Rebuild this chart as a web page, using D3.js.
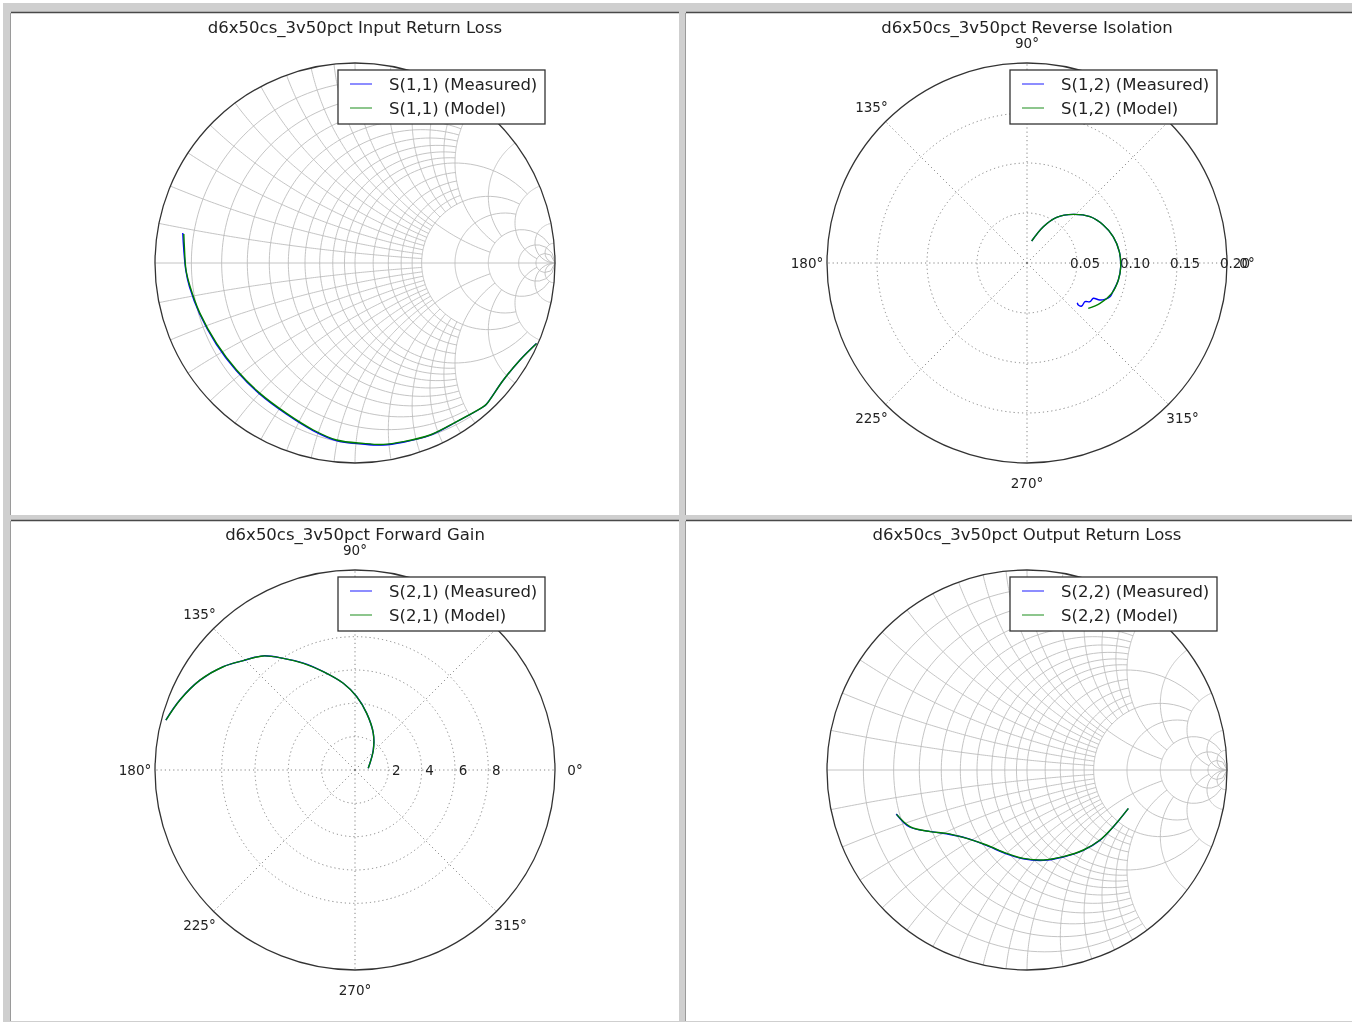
<!DOCTYPE html>
<html>
<head>
<meta charset="utf-8">
<script src="https://cdn.jsdelivr.net/npm/d3@7/dist/d3.min.js"></script>
<style>
    body { margin: 0; background: #fff; }
    svg text { font-family: "DejaVu Sans", sans-serif; fill: #222; }
</style>
</head>
<body>
<div class="chart-main"></div>
<script>

//////////
// DATA //
//////////

var titles = [
    'd6x50cs_3v50pct Input Return Loss',
    'd6x50cs_3v50pct Reverse Isolation',
    'd6x50cs_3v50pct Forward Gain',
    'd6x50cs_3v50pct Output Return Loss'
];
var paramNames = ['S(1,1)', 'S(1,2)', 'S(2,1)', 'S(2,2)'];
var legendKinds = ['(Measured)', '(Model)'];

// S(1,1) reflection coefficient (real, imag)
var s11MeasRe = [-0.861, -0.857, -0.846, -0.828, -0.777, -0.694, -0.594, -0.477, -0.344, -0.210, -0.094, 0.040, 0.141, 0.240, 0.373, 0.506, 0.640, 0.656, 0.741, 0.824, 0.907];
var s11MeasIm = [0.150, 0.080, -0.036, -0.118, -0.254, -0.405, -0.538, -0.655, -0.755, -0.838, -0.888, -0.905, -0.910, -0.896, -0.862, -0.795, -0.720, -0.707, -0.586, -0.486, -0.403];
var s11ModelRe = [-0.856, -0.853, -0.845, -0.825, -0.775, -0.692, -0.592, -0.475, -0.342, -0.208, -0.092, 0.042, 0.142, 0.242, 0.375, 0.508, 0.642, 0.658, 0.742, 0.825, 0.908];
var s11ModelIm = [0.145, 0.078, -0.035, -0.116, -0.252, -0.402, -0.535, -0.652, -0.752, -0.835, -0.885, -0.902, -0.907, -0.893, -0.860, -0.793, -0.718, -0.705, -0.585, -0.485, -0.402];

// S(1,2) magnitude / angle (deg)
var s12MeasMag = [0.0225, 0.0398, 0.0545, 0.0672, 0.0782, 0.0852, 0.0902, 0.0930, 0.0938, 0.0929, 0.0905, 0.0896, 0.0818, 0.0751, 0.0739, 0.0697, 0.0696, 0.0663, 0.0641];
var s12MeasAng = [78, 65.8, 57, 46.4, 36.3, 26.5, 16.9, 7, -2.3, -10.5, -18.5, -22.1, -26.9, -28, -31.6, -33.7, -38.2, -39.3, -38.3];
var s12ModelMag = [0.0225, 0.0398, 0.0545, 0.0672, 0.0782, 0.0852, 0.0902, 0.0930, 0.0938, 0.0929, 0.0900, 0.0834, 0.0762];
var s12ModelAng = [78, 65.8, 57, 46.4, 36.3, 26.5, 16.9, 7, -2.3, -10.5, -19.7, -28.9, -36.5];

// S(2,1) magnitude / angle (deg)
var s21MeasMag = [0.80, 1.62, 2.46, 3.47, 4.41, 5.25, 6.20, 7.12, 7.96, 8.79, 9.38, 10.05, 10.75, 11.32, 11.74];
var s21MeasAng = [7.3, 47.5, 63.5, 78.3, 88.7, 97.7, 107.9, 115.8, 122.7, 128.8, 135.6, 141.9, 149.9, 158.2, 165.2];
var s21ModelMag = [0.80, 1.63, 2.46, 3.47, 4.40, 5.25, 6.20, 7.11, 7.96, 8.78, 9.38, 10.04, 10.75, 11.31, 11.73];
var s21ModelAng = [7.3, 47.5, 63.5, 78.3, 88.7, 97.7, 107.9, 115.8, 122.7, 128.8, 135.6, 141.9, 149.9, 158.2, 165.2];

// S(2,2) reflection coefficient (real, imag)
var s22MeasRe = [-0.654, -0.587, -0.487, -0.403, -0.303, -0.203, -0.103, -0.019, 0.081, 0.181, 0.281, 0.364, 0.431, 0.506];
var s22MeasIm = [-0.220, -0.285, -0.307, -0.319, -0.341, -0.377, -0.419, -0.444, -0.452, -0.435, -0.402, -0.352, -0.285, -0.193];
var s22ModelRe = [-0.652, -0.585, -0.485, -0.402, -0.302, -0.202, -0.102, -0.018, 0.082, 0.182, 0.282, 0.365, 0.432, 0.507];
var s22ModelIm = [-0.222, -0.283, -0.308, -0.317, -0.342, -0.375, -0.417, -0.442, -0.450, -0.433, -0.400, -0.350, -0.283, -0.192];

// polar ticks (45 deg label sits under the legend in the original)
var angleTicks = [0, 45, 90, 135, 180, 225, 270, 315];
var angleLabels = [0, 90, 135, 180, 225, 270, 315];
var s12Max = 0.2;
var s12Rings = [0.05, 0.10, 0.15];
var s12RingLabels = ['0.05', '0.10', '0.15', '0.20'];
var s21Max = 12;
var s21Rings = [2, 4, 6, 8];
var s21RingLabels = ['2', '4', '6', '8'];

// smith grid values and how far (in the other coordinate) each is drawn
var smithValues = [
    [0.1, 0.2, 0.3, 0.4, 0.5, 0.6, 0.7, 0.8, 0.9, 1.2, 1.4, 1.6, 1.8],
    [1, 2, 3],
    [5],
    [10, 20]
];
var smithLimits = [2, 5, 20, Infinity];

////////////////
// DIMENSIONS //
////////////////

var w = 1352,
    h = 1024,
    R = 200;

var centers = [[355, 263], [1027, 263], [355, 770], [1027, 770]];
var cells = [[11, 13, 668, 502], [686, 13, 670, 502], [11, 521, 668, 500], [686, 521, 670, 500]];

var blue = '#0000ff',
    green = '#008000';

//////////////////
// CREATING SVG //
//////////////////

var svg = d3.select('.chart-main')
    .append('svg')
    .attr('width', w)
    .attr('height', h);

// the original is a slightly soft, upscaled screenshot
svg.append('defs')
    .append('filter')
    .attr('id', 'soft')
    .append('feGaussianBlur')
    .attr('stdDeviation', 0.4);

var root = svg.append('g').attr('filter', 'url(#soft)');

root.append('rect')
    .attr('width', w)
    .attr('height', h)
    .attr('fill', '#fff');

root.append('rect')
    .attr('x', 3)
    .attr('y', 3)
    .attr('width', w)
    .attr('height', h - 5)
    .attr('fill', '#cfcfcf');

cells.forEach(function(c) {
    root.append('rect')
        .attr('x', c[0])
        .attr('y', c[1])
        .attr('width', c[2])
        .attr('height', c[3])
        .attr('fill', '#fff');
    root.append('line')
        .attr('x1', c[0]).attr('x2', c[0] + c[2])
        .attr('y1', c[1] - 0.5).attr('y2', c[1] - 0.5)
        .attr('stroke', '#4a4a4a')
        .attr('stroke-width', 1.5);
    root.append('line')
        .attr('x1', c[0] - 0.5).attr('x2', c[0] - 0.5)
        .attr('y1', c[1]).attr('y2', c[1] + c[3])
        .attr('stroke', '#9a9a9a')
        .attr('stroke-width', 1);
});

/////////////
// HELPERS //
/////////////

function zip(a, b) {
    return a.map(function(v, i) { return [v, b[i]]; });
}

function gamma(r, x) {
    var den = (r + 1) * (r + 1) + x * x;
    return [(r * r + x * x - 1) / den, 2 * x / den];
}

function drawTitle(g, cx, cy, text) {
    g.append('text')
        .attr('x', cx)
        .attr('y', cy - 230)
        .attr('text-anchor', 'middle')
        .style('font-size', '16.5px')
        .text(text);
}

function drawLegend(g, cx, cy, name) {
    var lg = g.append('g').attr('transform', 'translate(' + (cx - 17) + ',' + (cy - 193) + ')');
    lg.append('rect')
        .attr('width', 207)
        .attr('height', 54)
        .attr('fill', '#fff')
        .attr('stroke', '#333')
        .attr('stroke-width', 1.3);
    [blue, green].forEach(function(col, i) {
        var yy = 14 + i * 24;
        lg.append('line')
            .attr('x1', 12).attr('x2', 34)
            .attr('y1', yy).attr('y2', yy)
            .attr('stroke', col)
            .attr('stroke-opacity', 0.75)
            .attr('stroke-width', 1.2);
        lg.append('text')
            .attr('x', 51)
            .attr('y', yy + 6)
            .style('font-size', '16.5px')
            .text(name + ' ' + legendKinds[i]);
    });
}

////////////////
// SMITH PLOT //
////////////////

function drawSmith(g, cx, cy, meas, model) {

    var xScale = d3.scaleLinear().domain([-1, 1]).range([cx - R, cx + R]);
    var yScale = d3.scaleLinear().domain([-1, 1]).range([cy + R, cy - R]);

    var line = d3.line()
        .x(function(d) { return xScale(d[0]); })
        .y(function(d) { return yScale(d[1]); });

    var grid = [];
    smithValues.forEach(function(vals, k) {
        var lim = smithLimits[k];
        vals.forEach(function(v) {
            // constant resistance circle
            var a = Math.atan(lim), pts = [];
            d3.range(0, 121).forEach(function(i) {
                var t = -a + 2 * a * i / 120;
                pts.push(gamma(v, Math.tan(t)));
            });
            grid.push(pts);
            // constant reactance arcs (+/-)
            [1, -1].forEach(function(sgn) {
                var p2 = [];
                d3.range(0, 121).forEach(function(i) {
                    var t = a * i / 120;
                    p2.push(gamma(Math.min(Math.tan(t), 1e6), sgn * v));
                });
                grid.push(p2);
            });
        });
    });
    grid.push([[-1, 0], [1, 0]]);

    g.append('g')
        .selectAll('path')
        .data(grid)
        .enter()
        .append('path')
        .attr('d', line)
        .attr('fill', 'none')
        .attr('stroke', '#bdbdbd')
        .attr('stroke-width', 0.9);

    g.append('circle')
        .attr('cx', xScale(0))
        .attr('cy', yScale(0))
        .attr('r', xScale(1) - xScale(0))
        .attr('fill', 'none')
        .attr('stroke', '#333')
        .attr('stroke-width', 1.3);

    var trace = d3.line()
        .x(function(d) { return xScale(d[0]); })
        .y(function(d) { return yScale(d[1]); })
        .curve(d3.curveCatmullRom.alpha(0.5));

    g.selectAll('.trace')
        .data([meas, model])
        .enter()
        .append('path')
        .attr('class', 'trace')
        .attr('d', trace)
        .attr('fill', 'none')
        .attr('stroke', function(d, i) { return i ? green : blue; })
        .attr('stroke-width', 1.4);
}

////////////////
// POLAR PLOT //
////////////////

function drawPolar(g, cx, cy, rMax, rings, ringLabels, meas, model) {

    var rScale = d3.scaleLinear().domain([0, rMax]).range([0, R]);
    var pg = g.append('g').attr('transform', 'translate(' + cx + ',' + cy + ')');

    pg.selectAll('.ring')
        .data(rings)
        .enter()
        .append('circle')
        .attr('class', 'ring')
        .attr('r', function(d) { return rScale(d); })
        .attr('fill', 'none')
        .attr('stroke', '#777')
        .attr('stroke-width', 0.9)
        .attr('stroke-dasharray', '1.2,3');

    pg.selectAll('.spoke')
        .data(angleTicks)
        .enter()
        .append('line')
        .attr('class', 'spoke')
        .attr('x2', function(d) { return R * Math.cos(d * Math.PI / 180); })
        .attr('y2', function(d) { return -R * Math.sin(d * Math.PI / 180); })
        .attr('stroke', '#777')
        .attr('stroke-width', 0.9)
        .attr('stroke-dasharray', '1.2,3');

    pg.append('circle')
        .attr('r', rScale(rMax))
        .attr('fill', 'none')
        .attr('stroke', '#333')
        .attr('stroke-width', 1.3);

    pg.selectAll('.alabel')
        .data(angleLabels)
        .enter()
        .append('text')
        .attr('class', 'alabel')
        .attr('x', function(d) { return 1.1 * R * Math.cos(d * Math.PI / 180); })
        .attr('y', function(d) { return -1.1 * R * Math.sin(d * Math.PI / 180); })
        .attr('dy', '0.35em')
        .attr('text-anchor', 'middle')
        .style('font-size', '13.5px')
        .text(function(d) { return d + '\u00b0'; });

    pg.selectAll('.rlabel')
        .data(ringLabels)
        .enter()
        .append('text')
        .attr('class', 'rlabel')
        .attr('x', function(d) { return rScale(+d) + 8; })
        .attr('dy', '0.35em')
        .attr('text-anchor', 'middle')
        .style('font-size', '13.5px')
        .text(function(d) { return d; });

    var line = d3.lineRadial()
        .angle(function(d) { return Math.PI / 2 - d[1] * Math.PI / 180; })
        .radius(function(d) { return rScale(d[0]); })
        .curve(d3.curveCatmullRom.alpha(0.5));

    pg.selectAll('.trace')
        .data([meas, model])
        .enter()
        .append('path')
        .attr('class', 'trace')
        .attr('d', line)
        .attr('fill', 'none')
        .attr('stroke', function(d, i) { return i ? green : blue; })
        .attr('stroke-width', 1.4);
}

//////////////
// DRAWING //
//////////////

var panels = root.selectAll('.panel')
    .data(titles)
    .enter()
    .append('g')
    .attr('class', 'panel');

panels.each(function(t, i) {
    var g = d3.select(this),
        cx = centers[i][0],
        cy = centers[i][1];

    if (i === 0) drawSmith(g, cx, cy, zip(s11MeasRe, s11MeasIm), zip(s11ModelRe, s11ModelIm));
    if (i === 1) drawPolar(g, cx, cy, s12Max, s12Rings, s12RingLabels, zip(s12MeasMag, s12MeasAng), zip(s12ModelMag, s12ModelAng));
    if (i === 2) drawPolar(g, cx, cy, s21Max, s21Rings, s21RingLabels, zip(s21MeasMag, s21MeasAng), zip(s21ModelMag, s21ModelAng));
    if (i === 3) drawSmith(g, cx, cy, zip(s22MeasRe, s22MeasIm), zip(s22ModelRe, s22ModelIm));

    drawTitle(g, cx, cy, t);
    drawLegend(g, cx, cy, paramNames[i]);
});

</script>
</body>
</html>
